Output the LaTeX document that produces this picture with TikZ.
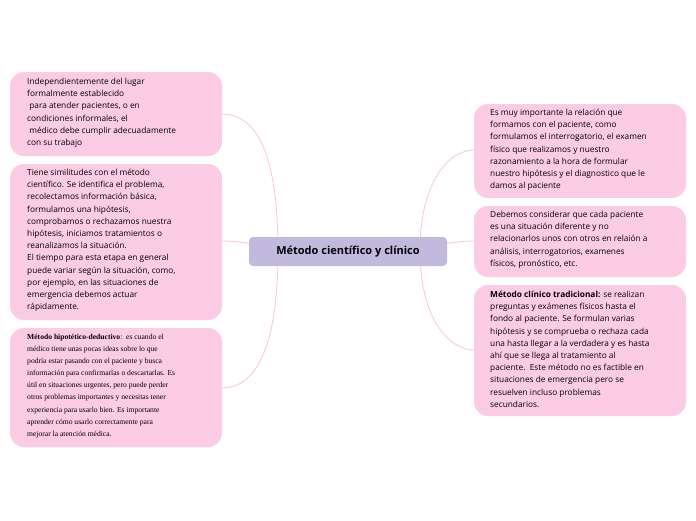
\documentclass[tikz,border=0pt]{standalone}
\usepackage{fontspec}
\setmainfont{Open Sans}
\newfontfamily\serifb{Liberation Serif}
\begin{document}
\begin{tikzpicture}[x=1pt,y=-1pt,
  box/.style={draw=none,fill=boxpink,rounded corners=14pt,anchor=north west,inner sep=0pt},
  txt/.style={anchor=north west,align=left,font=\fontsize{8.3}{12.2}\selectfont,inner sep=0pt},
  con/.style={draw=linepink,line width=0.8pt}]
\definecolor{boxpink}{HTML}{FCCCE4}
\definecolor{linepink}{HTML}{F7C6DE}
\definecolor{center}{HTML}{C2B9DE}
\useasboundingbox (0,0) rectangle (696,520);
\fill[white] (0,0) rectangle (696,520);
% connectors
\coordinate (cl) at (278,251);
\coordinate (cr) at (420,251);
\draw[con] (cl) .. controls (278,140) and (250,114) .. (222,114);
\draw[con] (cl) .. controls (265,245) and (240,241) .. (222,241);
\draw[con] (cl) .. controls (278,360) and (250,388) .. (222,388);
\draw[con] (cr) .. controls (420,180) and (450,150) .. (474,150);
\draw[con] (cr) .. controls (435,245) and (455,241) .. (474,241);
\draw[con] (cr) .. controls (420,320) and (450,350) .. (474,350);
% boxes
\fill[boxpink,rounded corners=14pt] (10,72) rectangle (222,156);
\fill[boxpink,rounded corners=14pt] (10,164) rectangle (222,320);
\fill[boxpink,rounded corners=14pt] (10,328) rectangle (222,447);
\fill[boxpink,rounded corners=14pt] (474,104) rectangle (686,198);
\fill[boxpink,rounded corners=14pt] (474,206) rectangle (686,277);
\fill[boxpink,rounded corners=14pt] (474,285) rectangle (686,416);
\node[fill=center,rounded corners=4pt,minimum width=198pt,minimum height=29pt,font=\bfseries\fontsize{11}{13}\selectfont] (c) at (348,251.5) {Método científico y clínico};
\node[txt] (l1) at (27,78) {Independientemente del lugar\\formalmente establecido\\\ para atender pacientes, o en\\condiciones informales, el\\\ médico debe cumplir adecuadamente\\con su trabajo};
\node[txt] (l2) at (27,169) {Tiene similitudes con el método\\científico. Se identifica el problema,\\recolectamos información básica,\\formulamos una hipótesis,\\comprobamos o rechazamos nuestra\\hipótesis, iniciamos tratamientos o\\reanalizamos la situación.\\El tiempo para esta etapa en general\\puede variar según la situación, como,\\por ejemplo, en las situaciones de\\emergencia debemos actuar\\rápidamente.};
\node[txt,font=\serifb\fontsize{7.6}{12.1}\selectfont] (l3) at (27,334) {\textbf{Método hipotético-deductivo}:\ \ es cuando el\\médico tiene unas pocas ideas sobre lo que\\podría estar pasando con el paciente y busca\\información para confirmarlas o descartarlas. Es\\útil en situaciones urgentes, pero puede perder\\otros problemas importantes y necesitas tener\\experiencia para usarlo bien. Es importante\\aprender cómo usarlo correctamente para\\mejorar la atención médica.};
\node[txt] (r1) at (490,109) {Es muy importante la relación que\\formamos con el paciente, como\\formulamos el interrogatorio, el examen\\físico que realizamos y nuestro\\razonamiento a la hora de formular\\nuestro hipótesis y el diagnostico que le\\damos al paciente};
\node[txt] (r2) at (490,211) {Debemos considerar que cada paciente\\es una situación diferente y no\\relacionarlos unos con otros en relaión a\\análisis, interrogatorios, examenes\\físicos, pronóstico, etc.};
\node[txt] (r3) at (490,291) {\textbf{Método clínico tradicional:} se realizan\\preguntas y exámenes físicos hasta el\\fondo al paciente. Se formulan varias\\hipótesis y se comprueba o rechaza cada\\una hasta llegar a la verdadera y es hasta\\ahí que se llega al tratamiento al\\paciente.\ \ Este método no es factible en\\situaciones de emergencia pero se\\resuelven incluso problemas\\secundarios.};
\end{tikzpicture}
\end{document}
